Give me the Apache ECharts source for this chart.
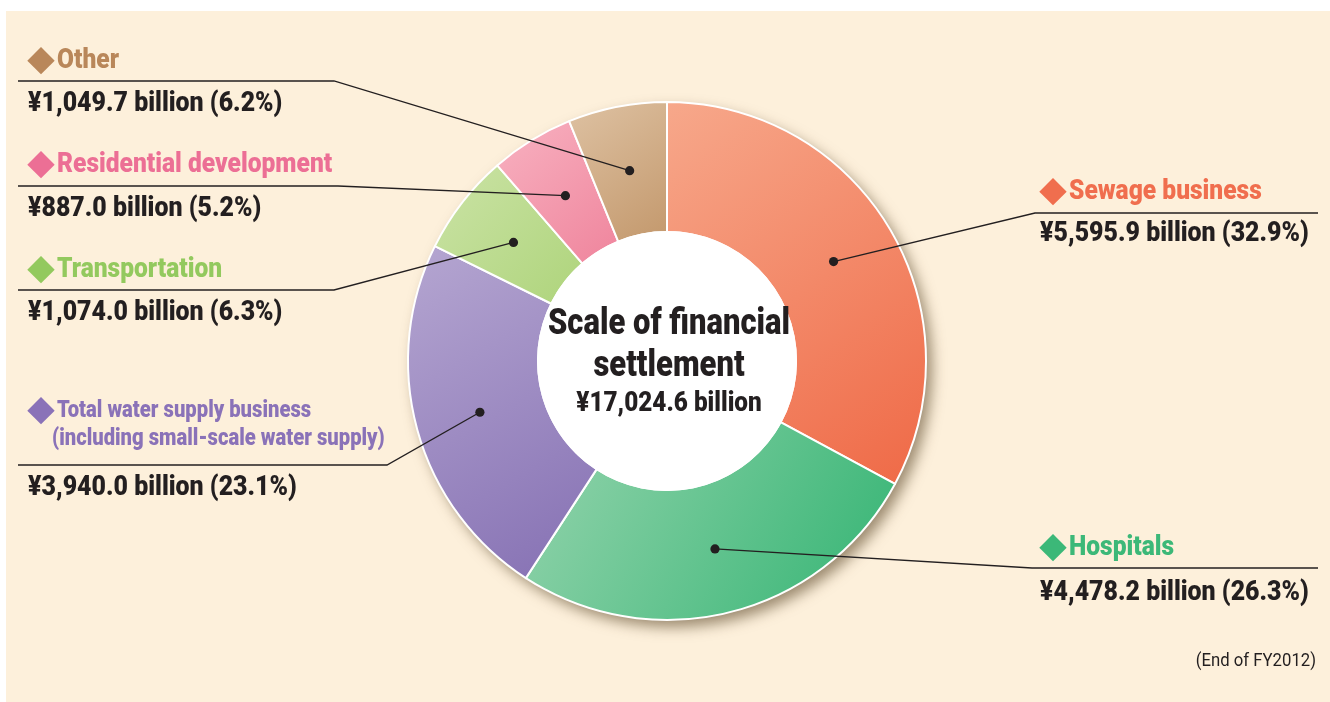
<!DOCTYPE html>
<html>
<head>
<meta charset="utf-8">
<script src="https://cdn.jsdelivr.net/npm/echarts@6/dist/echarts.min.js"></script>
<style>
  html, body { margin: 0; padding: 0; background: #ffffff; }
  #chart { width: 1330px; height: 702px; }
</style>
</head>
<body>
<div id="chart"></div>
<script>
// Segments listed clockwise from 12 o'clock
const categories = ['Sewage business', 'Hospitals', 'Total water supply business', 'Transportation', 'Residential development', 'Other'];
const nameLines = [
  ['Sewage business'],
  ['Hospitals'],
  ['Total water supply business', '(including small-scale water supply)'],
  ['Transportation'],
  ['Residential development'],
  ['Other']
];
const amounts = [5595.9, 4478.2, 3940.0, 1074.0, 887.0, 1049.7];   // ¥ billion
const shares = [32.9, 26.3, 23.1, 6.3, 5.2, 6.2];                   // %
const totalAmount = 17024.6;
const centerTitle = ['Scale of financial', 'settlement'];
const footnote = '(End of FY2012)';

// Colours: gradient start (light), gradient end (dark), label colour
const lightColors = ['#f7a88b', '#95d4ad', '#b5a6d1', '#cbe3a6', '#f8b2c1', '#dec2a3'];
const darkColors  = ['#ef6946', '#33b473', '#8570b3', '#aed47b', '#ef849c', '#c3986c'];
const labelColors = ['#f06e4e', '#3cb878', '#8a72b8', '#93c95e', '#ec6f95', '#b9875a'];

// Geometry of the ring
const CX = 667, CY = 361, R_IN = 129, R_OUT = 259, R_DOT = 194;

// Label block placement: side, elbow of the leader, y of the rule, y of name/value
const layout = [
  { side: 'right', elbowX: 1035, ruleY: 213, nameY: 192, valueY: 234 },
  { side: 'right', elbowX: 1032, ruleY: 568, nameY: 548, valueY: 593 },
  { side: 'left',  elbowX: 387,  ruleY: 465, nameY: 411, valueY: 488 },
  { side: 'left',  elbowX: 334,  ruleY: 290, nameY: 270, valueY: 313 },
  { side: 'left',  elbowX: 338,  ruleY: 186, nameY: 165, valueY: 209 },
  { side: 'left',  elbowX: 334,  ruleY: 81,  nameY: 61,  valueY: 104 }
];

const FONT = 'Roboto, "Noto Sans CJK JP", sans-serif';
const INK = '#231f20';

function fmtAmount(v) {
  return '¥' + v.toLocaleString('en-US', { minimumFractionDigits: 1, maximumFractionDigits: 1 }) + ' billion';
}

// Condensed lettering: scale horizontally around the anchor point
function label(text, x, y, font, fill, align, squeeze) {
  return {
    type: 'text', z: 100, silent: true, x: x, y: y, scaleX: squeeze,
    style: { text: text, x: 0, y: 0, fill: fill, font: font,
             align: align, verticalAlign: 'middle', textAlign: align, textVerticalAlign: 'middle' }
  };
}

const chart = echarts.init(document.getElementById('chart'), null, { renderer: 'canvas' });

const pieData = categories.map((c, i) => ({
  name: c,
  value: amounts[i],
  itemStyle: {
    color: {
      type: 'linear', x: 0, y: 0, x2: 1, y2: 1,
      colorStops: [{ offset: 0, color: lightColors[i] }, { offset: 1, color: darkColors[i] }]
    }
  }
}));

// Leader lines and dots follow the mid-angle of every segment
const sum = amounts.reduce((a, b) => a + b, 0);
const graphics = [];
graphics.push({ type: 'rect', z: -100, shape: { x: 6, y: 11, width: 1324, height: 691 }, style: { fill: '#fdf0db' } });

let acc = 0;
categories.forEach((c, i) => {
  const mid = (acc + amounts[i] / 2) / sum;
  acc += amounts[i];
  const ang = Math.PI / 2 - mid * Math.PI * 2;
  const dx = CX + R_DOT * Math.cos(ang);
  const dy = CY - R_DOT * Math.sin(ang);
  const L = layout[i];
  const endX = L.side === 'left' ? 18 : 1318;
  graphics.push({
    type: 'polyline', z: 100, silent: true,
    shape: { points: [[dx, dy], [L.elbowX, L.ruleY], [endX, L.ruleY]] },
    style: { stroke: INK, lineWidth: 1.3, fill: null }
  });
  graphics.push({ type: 'circle', z: 101, silent: true, shape: { cx: dx, cy: dy, r: 4.6 }, style: { fill: INK } });

  const tx = L.side === 'left' ? 28 : 1040;
  const lines = nameLines[i];
  const small = lines.length > 1;
  const nameSize = small ? 23 : 27;
  // diamond bullet
  graphics.push(label('◆', tx - 1, L.nameY, '28px "Noto Sans CJK JP", sans-serif', labelColors[i], 'left', 1));
  lines.forEach((ln, k) => {
    graphics.push(label(ln, k === 0 ? tx + 29 : tx + 24, L.nameY + k * 28,
      '900 ' + nameSize + 'px ' + FONT, labelColors[i], 'left', small ? 0.88 : 0.91));
  });
  graphics.push(label(fmtAmount(amounts[i]) + ' (' + shares[i].toFixed(1) + '%)', tx, L.valueY,
    '900 28px ' + FONT, INK, 'left', 0.89));
});

// Centre caption
[[centerTitle[0], 325, 36, 0.86], [centerTitle[1], 367, 36, 0.86], [fmtAmount(totalAmount), 404, 27, 0.9]].forEach(([t, y, s, q]) => {
  graphics.push(label(t, CX + 2, y, '900 ' + s + 'px ' + FONT, INK, 'center', q));
});
graphics.push(label(footnote, 1316, 661, '19px ' + FONT, INK, 'right', 0.88));

chart.setOption({
  animation: false,
  backgroundColor: '#ffffff',
  series: [
    { // soft drop shadow under the ring
      type: 'pie', z: 1, silent: true, center: [CX, CY], radius: [R_IN, R_OUT],
      label: { show: false }, labelLine: { show: false }, emphasis: { disabled: true },
      data: [{ value: 1, itemStyle: { color: '#e9dcc6', shadowBlur: 14, shadowOffsetX: 6, shadowOffsetY: 7, shadowColor: 'rgba(90,70,40,0.6)' } }]
    },
    {
      type: 'pie', z: 2, silent: true, center: [CX, CY], radius: [R_IN, R_OUT],
      startAngle: 90, clockwise: true, avoidLabelOverlap: false,
      itemStyle: { borderColor: '#ffffff', borderWidth: 2 },
      label: { show: false }, labelLine: { show: false }, emphasis: { disabled: true },
      data: pieData
    },
    { // white hub
      type: 'pie', z: 3, silent: true, center: [CX, CY], radius: [0, R_IN + 1],
      label: { show: false }, labelLine: { show: false }, emphasis: { disabled: true },
      data: [{ value: 1, itemStyle: { color: '#ffffff' } }]
    }
  ],
  graphic: { elements: graphics }
});
</script>
</body>
</html>
